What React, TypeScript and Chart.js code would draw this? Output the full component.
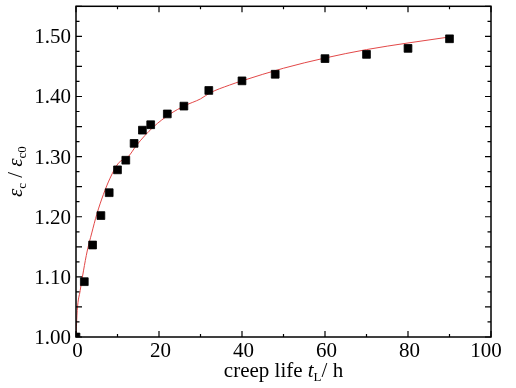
import React, { useEffect, useRef } from "react";
import { Chart, registerables } from "chart.js";

Chart.register(...registerables);

// Measured creep data (squares)
const creepLife = [0, 2, 4, 6, 8, 10, 12, 14, 16, 18, 22, 26, 32, 40, 48, 60, 70, 80, 90];
const strainRatio = [1.0, 1.092, 1.153, 1.202, 1.24, 1.278, 1.294, 1.322, 1.344, 1.353, 1.371, 1.384, 1.41, 1.426, 1.437, 1.463, 1.47, 1.48, 1.496];

// Fitted curve (red line)
const fitLife = [0, 0.3, 1.0, 1.8, 2.7, 3.8, 5.0, 6.6, 8.2, 10.2, 12.6, 14.6, 18.6, 22.7, 26.3, 30, 32.3, 37, 40, 50, 60, 70, 80, 90];
const fitRatio = [1.0, 1.044, 1.077, 1.11, 1.143, 1.173, 1.204, 1.237, 1.264, 1.289, 1.3, 1.319, 1.349, 1.371, 1.385, 1.396, 1.406, 1.419, 1.426, 1.447, 1.464, 1.478, 1.489, 1.499];

// Axis ticks
const xTickLabels = ["0", "20", "40", "60", "80", "100"];
const yTickLabels = ["1.00", "1.10", "1.20", "1.30", "1.40", "1.50"];

const FONT = "'Liberation Serif', 'Times New Roman', serif";
const FS = 21;

const framePlugin = {
  id: "frame",
  afterDatasetsDraw(chart: any) {
    const { ctx, chartArea, scales } = chart;
    const { left, right, top, bottom } = chartArea;
    const xs = scales.x;
    const ys = scales.y;
    ctx.save();
    ctx.strokeStyle = "#000";
    ctx.lineWidth = 1.5;
    ctx.strokeRect(left, top, right - left, bottom - top);

    ctx.lineWidth = 1.2;
    // x ticks (every 10, major every 20)
    for (let i = 0; i <= 10; i++) {
      const v = i * 10;
      const px = xs.getPixelForValue(v);
      const len = i % 2 === 0 ? 6 : 3;
      ctx.beginPath();
      ctx.moveTo(px, bottom);
      ctx.lineTo(px, bottom - len);
      ctx.moveTo(px, top);
      ctx.lineTo(px, top + len);
      ctx.stroke();
    }
    // y ticks (every 0.025, major every 0.05)
    for (let i = 0; i <= 22; i++) {
      const v = 1 + i * 0.025;
      const py = ys.getPixelForValue(v);
      const len = i % 2 === 0 ? 6 : 3.5;
      ctx.beginPath();
      ctx.moveTo(left, py);
      ctx.lineTo(left + len, py);
      ctx.moveTo(right, py);
      ctx.lineTo(right - len, py);
      ctx.stroke();
    }

    // tick labels
    ctx.fillStyle = "#000";
    ctx.font = `${FS}px ${FONT}`;
    ctx.textBaseline = "alphabetic";
    xTickLabels.forEach((t, i) => {
      const px = xs.getPixelForValue(parseFloat(t));
      ctx.textAlign = "center";
      const dx = i === xTickLabels.length - 1 ? -5 : 1.5;
      ctx.fillText(t, px + dx, bottom + 20);
    });
    yTickLabels.forEach((t) => {
      const py = ys.getPixelForValue(parseFloat(t));
      ctx.textAlign = "right";
      ctx.fillText(t, left - 5, py + 7);
    });

    // x title: creep life t_L / h
    const xParts: [string, string, number][] = [
      ["creep life ", `${FS}px ${FONT}`, 0],
      ["t", `italic ${FS}px ${FONT}`, 0],
      ["L", `${Math.round(FS * 0.62)}px ${FONT}`, 4],
      ["/ h", `${FS}px ${FONT}`, 0],
    ];
    let w = 0;
    xParts.forEach(([s, f]) => {
      ctx.font = f;
      w += ctx.measureText(s).width;
    });
    let cx = (left + right) / 2 - w / 2;
    const by = bottom + 40;
    ctx.textAlign = "left";
    xParts.forEach(([s, f, dy]) => {
      ctx.font = f;
      ctx.fillText(s, cx, by + dy);
      cx += ctx.measureText(s).width;
    });

    // y title: εc / εc0 (rotated)
    const yParts: [string, string, number][] = [
      ["ε", `italic ${FS}px ${FONT}`, 0],
      ["c", `${Math.round(FS * 0.62)}px ${FONT}`, 4],
      [" / ", `${FS}px ${FONT}`, 0],
      ["ε", `italic ${FS}px ${FONT}`, 0],
      ["c0", `${Math.round(FS * 0.62)}px ${FONT}`, 4],
    ];
    w = 0;
    yParts.forEach(([s, f]) => {
      ctx.font = f;
      w += ctx.measureText(s).width;
    });
    ctx.save();
    ctx.translate(22, (top + bottom) / 2);
    ctx.rotate(-Math.PI / 2);
    let tx = -w / 2;
    yParts.forEach(([s, f, dy]) => {
      ctx.font = f;
      ctx.fillText(s, tx, dy);
      tx += ctx.measureText(s).width;
    });
    ctx.restore();

    ctx.restore();
  },
};

export default function App() {
  const ref = useRef<HTMLCanvasElement | null>(null);

  useEffect(() => {
    const canvas = ref.current;
    if (!canvas) return;
    const chart = new Chart(canvas, {
      type: "scatter",
      data: {
        datasets: [
          {
            label: "measured",
            data: creepLife.map((x, i) => ({ x, y: strainRatio[i] })),
            pointStyle: "rect",
            pointRadius: 5.5,
            pointBackgroundColor: "#000",
            pointBorderColor: "#000",
            pointBorderWidth: 0.8,
            showLine: false,
            clip: 0,
            order: 0,
          } as any,
          {
            label: "fit",
            data: fitLife.map((x, i) => ({ x, y: fitRatio[i] })),
            showLine: true,
            borderColor: "rgb(226, 72, 72)",
            borderWidth: 1,
            pointRadius: 0,
            cubicInterpolationMode: "monotone",
            clip: 0,
            order: 1,
          } as any,
        ],
      },
      options: {
        responsive: false,
        animation: false,
        devicePixelRatio: 1,
        layout: { padding: { left: 0, right: 25, top: 4, bottom: 0 } },
        plugins: {
          legend: { display: false },
          tooltip: { enabled: false },
        },
        scales: {
          x: {
            type: "linear",
            min: 0,
            max: 100,
            grid: { display: false },
            border: { display: false },
            ticks: { display: false },
            afterFit: (s: any) => {
              s.height = 51;
            },
          },
          y: {
            type: "linear",
            min: 1.0,
            max: 1.55,
            grid: { display: false },
            border: { display: false },
            ticks: { display: false },
            afterFit: (s: any) => {
              s.width = 76;
            },
          },
        },
      } as any,
      plugins: [framePlugin],
    });
    return () => chart.destroy();
  }, []);

  return (
    <div style={{ position: "fixed", left: 0, top: 0, width: 516, height: 388, background: "#fff" }}>
      <canvas ref={ref} width={516} height={388} style={{ width: 516, height: 388, display: "block" }} />
    </div>
  );
}
